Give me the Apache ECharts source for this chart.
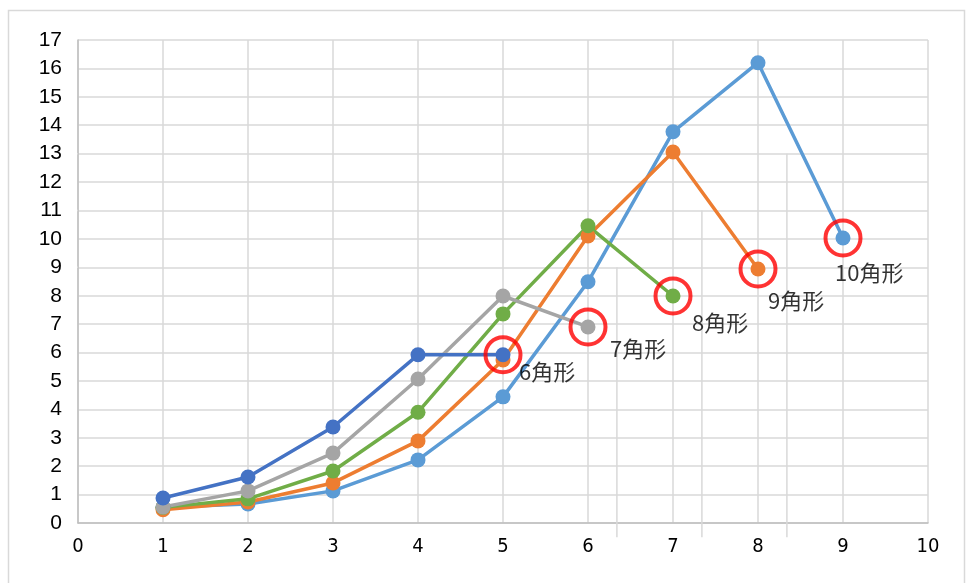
<!DOCTYPE html>
<html>
<head>
<meta charset="utf-8">
<script src="https://cdn.jsdelivr.net/npm/echarts@6/dist/echarts.min.js"></script>
<style>
    html, body { margin: 0; padding: 0; background: #fff; }
    #chart { width: 971px; height: 583px; }
</style>
</head>
<body>
<div id="chart"></div>
<script>
    // data
    var xSteps = [1, 2, 3, 4, 5, 6, 7, 8, 9];
    var names = ['6角形', '7角形', '8角形', '9角形', '10角形'];
    var hex6 = [0.88, 1.62, 3.38, 5.92, 5.92];
    var hex7 = [0.56, 1.13, 2.46, 5.07, 7.99, 6.9];
    var hex8 = [0.55, 0.85, 1.83, 3.9, 7.36, 10.46, 7.99];
    var hex9 = [0.47, 0.74, 1.41, 2.89, 5.74, 10.1, 13.06, 8.94];
    var hex10 = [0.55, 0.67, 1.13, 2.22, 4.44, 8.49, 13.77, 16.2, 10.03];
    var yTicks = [0, 17];
    var xTicks = [0, 10];

    var allSeries = [hex6, hex7, hex8, hex9, hex10];
    var colors = ['#4472C4', '#A5A5A5', '#70AD47', '#ED7D31', '#5B9BD5'];
    // excel draws them in this order (dark blue on top)
    var drawOrder = [4, 3, 2, 1, 0];
    // where each "n角形" label sits relative to its point
    var labelOffsets = [[16, 17], [22, 22], [19, 27], [10, 32], [-8, 35]];

    function toPoints(values) {
        return values.map(function (v, i) { return [xSteps[i], v]; });
    }

    var chart = echarts.init(document.getElementById('chart'));

    var series = [];

    // leftover frame lines from the overlaid excel charts
    series.push({
        type: 'line',
        silent: true,
        clip: false,
        symbol: 'none',
        connectNulls: false,
        z: 1,
        lineStyle: { color: '#d9d9d9', width: 1.5 },
        data: [
            [6.34, -0.5], [6.34, 9], null,
            [7.34, -0.5], [7.34, 11], null,
            [8.34, -0.5], [8.34, 13], null,
            [-0.13, 13], [0, 13], null,
            [-0.13, 11], [0, 11], null,
            [-0.13, 9], [0, 9]
        ]
    });

    drawOrder.forEach(function (i) {
        series.push({
            name: names[i],
            type: 'line',
            data: toPoints(allSeries[i]),
            symbol: 'circle',
            symbolSize: 15,
            z: 3,
            itemStyle: { color: colors[i] },
            lineStyle: { color: colors[i], width: 3.5 }
        });
    });

    // red rings + labels on the last point of each series
    series.push({
        type: 'scatter',
        z: 5,
        symbol: 'circle',
        symbolSize: 35,
        itemStyle: { color: 'rgba(0,0,0,0)', borderColor: '#FF0000', borderWidth: 4 },
        data: allSeries.map(function (vals, i) {
            return {
                value: [xSteps[vals.length - 1], vals[vals.length - 1]],
                label: {
                    show: true,
                    formatter: names[i],
                    position: 'inside',
                    align: 'left',
                    verticalAlign: 'middle',
                    offset: labelOffsets[i],
                    color: '#000',
                    fontSize: 22,
                    fontFamily: 'Noto Sans CJK JP'
                }
            };
        })
    });

    chart.setOption({
        animation: false,
        backgroundColor: '#fff',
        graphic: [{
            type: 'rect',
            shape: { x: 8.5, y: 10.5, width: 956, height: 580 },
            style: { fill: 'none', stroke: '#d9d9d9', lineWidth: 1.5 },
            silent: true
        }],
        grid: { left: 78, right: 43, top: 40, bottom: 60 },
        xAxis: {
            type: 'value',
            min: xTicks[0],
            max: xTicks[1],
            interval: 1,
            axisLine: { lineStyle: { color: '#bfbfbf', width: 1.5 } },
            axisTick: { show: false },
            splitLine: { lineStyle: { color: '#d9d9d9', width: 1.5 } },
            axisLabel: {
                color: '#000',
                fontSize: 20,
                fontFamily: 'DejaVu Sans Condensed',
                margin: 14
            }
        },
        yAxis: {
            type: 'value',
            min: yTicks[0],
            max: yTicks[1],
            interval: 1,
            axisLine: { show: true, lineStyle: { color: '#bfbfbf', width: 1.5 } },
            axisTick: { show: false },
            splitLine: { lineStyle: { color: '#d9d9d9', width: 1.5 } },
            axisLabel: {
                color: '#000',
                fontSize: 21,
                fontFamily: 'Liberation Sans',
                margin: 16
            }
        },
        series: series
    });
</script>
</body>
</html>
